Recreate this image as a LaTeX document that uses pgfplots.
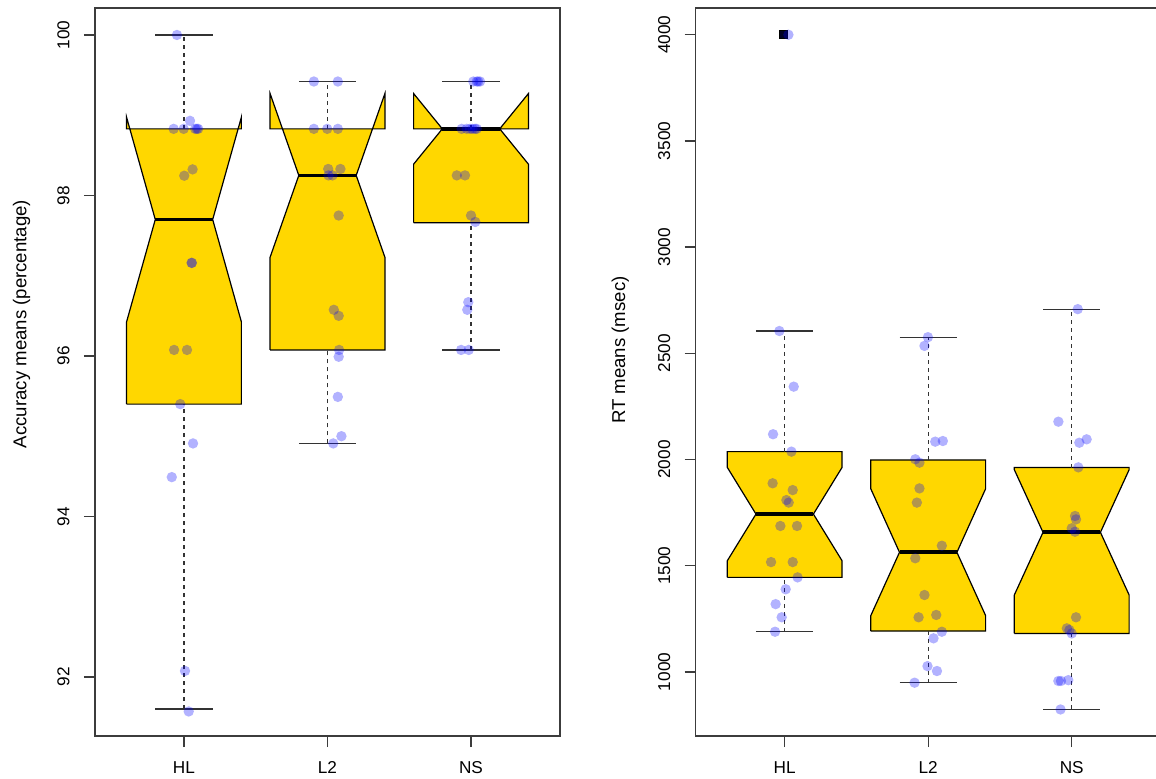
\documentclass[border=0pt]{standalone}
\usepackage{fontspec}
\setmainfont{Liberation Sans}
\usepackage{pgfplots}
\pgfplotsset{compat=1.18}
\definecolor{boxgold}{RGB}{255,215,0}
\definecolor{framegray}{RGB}{60,60,60}

\pgfplotsset{
  boxfill/.style={fill=boxgold, draw=black, line width=0.6pt, line join=miter},
  medline/.style={black, line width=1.9pt},
  whisk/.style={black!80, line width=0.6pt, dash pattern=on 2pt off 2pt},
  capline/.style={black!80, line width=0.6pt},
  pts/.style={only marks, mark=*, mark size=2.6pt, mark options={draw opacity=0, fill=blue, fill opacity=0.3}},
  common/.style={
    scale only axis, width=232.5pt, height=364pt, anchor=south west,
    xmin=0.38, xmax=3.62, xtick={1,2,3}, xticklabels={HL,L2,NS},
    xtick pos=bottom, ytick pos=left, tick align=outside, major tick length=5.5pt,
    axis line style={framegray, line width=0.7pt},
    every tick/.style={framegray, line width=0.7pt},
    ticklabel style={font=\fontsize{8.6}{9.5}\selectfont, inner sep=0pt},
    yticklabel style={rotate=90, anchor=south},
    yticklabel shift=7pt,
    xticklabel style={anchor=north, yshift=-7pt},
    label style={font=\fontsize{9.3}{10}\selectfont},
    scaled y ticks=false,
    /pgf/number format/1000 sep={},
    /pgf/number format/assume math mode=true,
  },
}

% #1 x, #2 lower whisker, #3 Q1, #4 lower notch, #5 median, #6 upper notch, #7 Q3, #8 upper whisker
\newcommand{\notchbox}[8]{%
  \pgfmathsetmacro\xl{#1-0.4}%
  \pgfmathsetmacro\xr{#1+0.4}%
  \pgfmathsetmacro\xml{#1-0.2}%
  \pgfmathsetmacro\xmr{#1+0.2}%
  \edef\temp{%
    \noexpand\addplot[boxfill] coordinates {(\xl,#3) (\xl,#4) (\xml,#5) (\xl,#6) (\xl,#7) (\xr,#7) (\xr,#6) (\xmr,#5) (\xr,#4) (\xr,#3) (\xl,#3)};
    \noexpand\addplot[medline] coordinates {(\xml,#5) (\xmr,#5)};
    \noexpand\addplot[whisk] coordinates {(#1,#7) (#1,#8)};
    \noexpand\addplot[whisk] coordinates {(#1,#2) (#1,#3)};
    \noexpand\addplot[capline] coordinates {(\xml,#8) (\xmr,#8)};
    \noexpand\addplot[capline] coordinates {(\xml,#2) (\xmr,#2)};
  }\temp
}

\begin{document}
\begin{tikzpicture}
\path[use as bounding box] (0,0) rectangle (578pt,389pt);

\begin{axis}[common, at={(47.5pt,21pt)},
  ymin=91.264, ymax=100.336, ytick={92,94,96,98,100},
  ylabel={Accuracy means (percentage)},
  ylabel style={at={(axis description cs:-0.158,0.566)}, anchor=center}]
  \notchbox{1}{91.6}{95.40}{96.425}{97.70}{98.975}{98.83}{100}
  \notchbox{2}{94.91}{96.075}{97.23}{98.25}{99.27}{98.83}{99.42}
  \notchbox{3}{96.075}{97.66}{98.39}{98.83}{99.27}{98.83}{99.42}
  % HL
  \addplot[pts] coordinates {
    (0.951,100) (1.042,98.93) (0.928,98.83) (0.998,98.83) (1.078,98.83) (1.099,98.83)
    (1.090,98.83) (1.060,98.325) (1.002,98.246) (1.053,97.16) (1.055,97.16)
    (0.931,96.075) (1.021,96.075) (0.974,95.40) (1.063,94.91) (0.915,94.49)
    (1.007,92.075) (1.033,91.57)};
  % L2
  \addplot[pts] coordinates {
    (1.905,99.42) (2.072,99.42) (1.905,98.83) (1.998,98.83) (2.072,98.83)
    (2.005,98.33) (2.090,98.33) (2.007,98.25) (2.035,98.25) (2.078,97.75)
    (2.044,96.575) (2.078,96.50) (2.081,96.075) (2.078,95.99) (2.072,95.49)
    (2.097,95.00) (2.040,94.91)};
  % NS
  \addplot[pts] coordinates {
    (3.016,99.42) (3.040,99.42) (3.063,99.42) (3.050,99.42)
    (2.935,98.83) (2.970,98.83) (2.993,98.83) (3.028,98.83) (3.040,98.83) (3.010,98.83)
    (2.901,98.25) (2.958,98.25) (3.000,97.75) (3.030,97.67)
    (2.981,96.67) (2.974,96.575) (2.931,96.075) (2.984,96.075)};
\end{axis}

\begin{axis}[common, at={(347.85pt,21pt)},
  ymin=698, ymax=4126, ytick={1000,1500,2000,2500,3000,3500,4000},
  ylabel={RT means (msec)},
  ylabel style={at={(axis description cs:-0.162,0.530)}, anchor=center}]
  \notchbox{1}{1189}{1445}{1523}{1743}{1963}{2037}{2605}
  \notchbox{2}{949}{1192}{1265}{1563}{1862}{1998}{2576}
  \notchbox{3}{823}{1181}{1362}{1657}{1952}{1962}{2708}
  \addplot[only marks, mark=square*, mark size=2pt, mark options={draw=none, fill=black!85!blue}] coordinates {(0.991,4000)};
  % HL
  \addplot[pts] coordinates {
    (1.026,4000) (0.963,2605) (1.063,2343) (0.919,2119) (1.047,2037) (0.916,1888)
    (1.056,1856) (1.012,1809) (1.028,1797) (0.970,1687) (1.086,1687) (0.905,1517)
    (1.056,1517) (1.090,1445) (1.007,1389) (0.937,1319) (0.979,1257) (0.933,1189)};
  % L2
  \addplot[pts] coordinates {
    (1.998,2576) (1.974,2535) (2.049,2084) (2.102,2087) (1.910,2001) (1.939,1985)
    (1.939,1864) (1.921,1797) (2.095,1594) (1.910,1535) (1.974,1362) (1.933,1257)
    (2.056,1268) (2.095,1189) (2.037,1158) (1.995,1027) (2.061,1004) (1.905,949)};
  % NS
  \addplot[pts] coordinates {
    (3.042,2708) (2.907,2178) (3.053,2079) (3.104,2095) (3.046,1963) (3.023,1734)
    (3.030,1718) (3.000,1676) (3.023,1660) (3.030,1257) (2.966,1205) (2.984,1197)
    (3.000,1181) (2.907,957) (2.925,957) (2.976,961) (2.922,823)};
\end{axis}
\end{tikzpicture}
\end{document}
